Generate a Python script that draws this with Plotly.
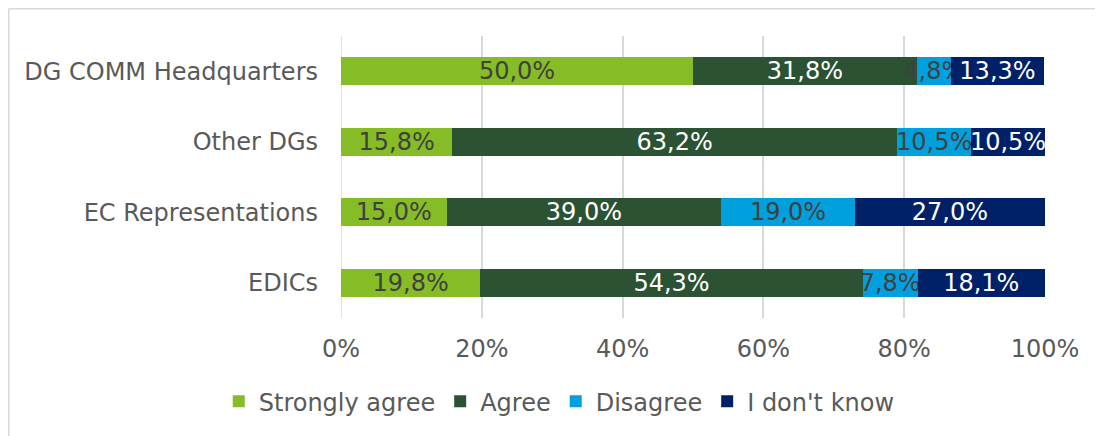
import plotly.graph_objects as go

categories = ["DG COMM Headquarters", "Other DGs", "EC Representations", "EDICs"]
series_names = ["Strongly agree", "Agree", "Disagree", "I don't know"]
strongly_agree = [50.0, 15.8, 15.0, 19.8]
agree = [31.8, 63.2, 39.0, 54.3]
disagree = [4.8, 10.5, 19.0, 7.8]
dont_know = [13.3, 10.5, 27.0, 18.1]
x_ticks = [0, 20, 40, 60, 80, 100]

series_values = [strongly_agree, agree, disagree, dont_know]
colors = ["#86BC25", "#2C5234", "#00A0DF", "#002068"]
text_colors = ["#404040", "#FFFFFF", "#404040", "#FFFFFF"]

FONT = "DejaVu Sans"

fig = go.Figure()
for name, vals, col, tcol in zip(series_names, series_values, colors, text_colors):
    fig.add_trace(go.Bar(
        y=categories, x=vals, name=name, orientation="h",
        marker=dict(color=col, line=dict(width=0)),
        text=[f"{v:.1f}%".replace(".", ",") for v in vals],
        textposition="inside", insidetextanchor="middle",
        textangle=0, constraintext="none",
        textfont=dict(family=FONT, size=24, color=tcol),
        hoverinfo="skip",
    ))

# page body has an 8px margin, so the figure is sized/offset to compensate
fig.update_layout(
    barmode="stack",
    bargap=0.6,
    width=1095, height=428,
    margin=dict(l=333, r=58, t=28, b=112),
    paper_bgcolor="white", plot_bgcolor="white",
    font=dict(family=FONT, size=24, color="#595959"),
    showlegend=True,
    legend=dict(orientation="h", x=0.31, xanchor="center", y=-0.297, yanchor="middle",
                font=dict(family=FONT, size=24, color="#595959"),
                itemwidth=30, traceorder="normal"),
    uniformtext=dict(mode=False),
)
fig.update_xaxes(range=[0, 100], tickvals=x_ticks, ticktext=[f"{t}%" for t in x_ticks],
                 showgrid=True, gridcolor="#D9D9D9", gridwidth=1.5,
                 zeroline=False, showline=False, ticks="", ticklabelstandoff=14,
                 tickfont=dict(family=FONT, size=24, color="#595959"))
fig.update_yaxes(autorange="reversed", showgrid=False, zeroline=False,
                 showline=False, ticks="", ticklabelstandoff=22,
                 tickfont=dict(family=FONT, size=24, color="#595959"))

fig.add_shape(type="line", xref="x", yref="paper", x0=0, x1=0, y0=0, y1=1,
              line=dict(color="#D9D9D9", width=1.5), layer="below")
# chart frame: only left and top edges are visible in the picture
fig.add_shape(type="line", xref="paper", yref="paper",
              x0=-0.472, x1=-0.472, y0=-0.45, y1=1.097,
              line=dict(color="#D9D9D9", width=1.5))
fig.add_shape(type="line", xref="paper", yref="paper",
              x0=-0.472, x1=1.1, y0=1.097, y1=1.097,
              line=dict(color="#D9D9D9", width=1.5))

fig.write_html("out.html")
